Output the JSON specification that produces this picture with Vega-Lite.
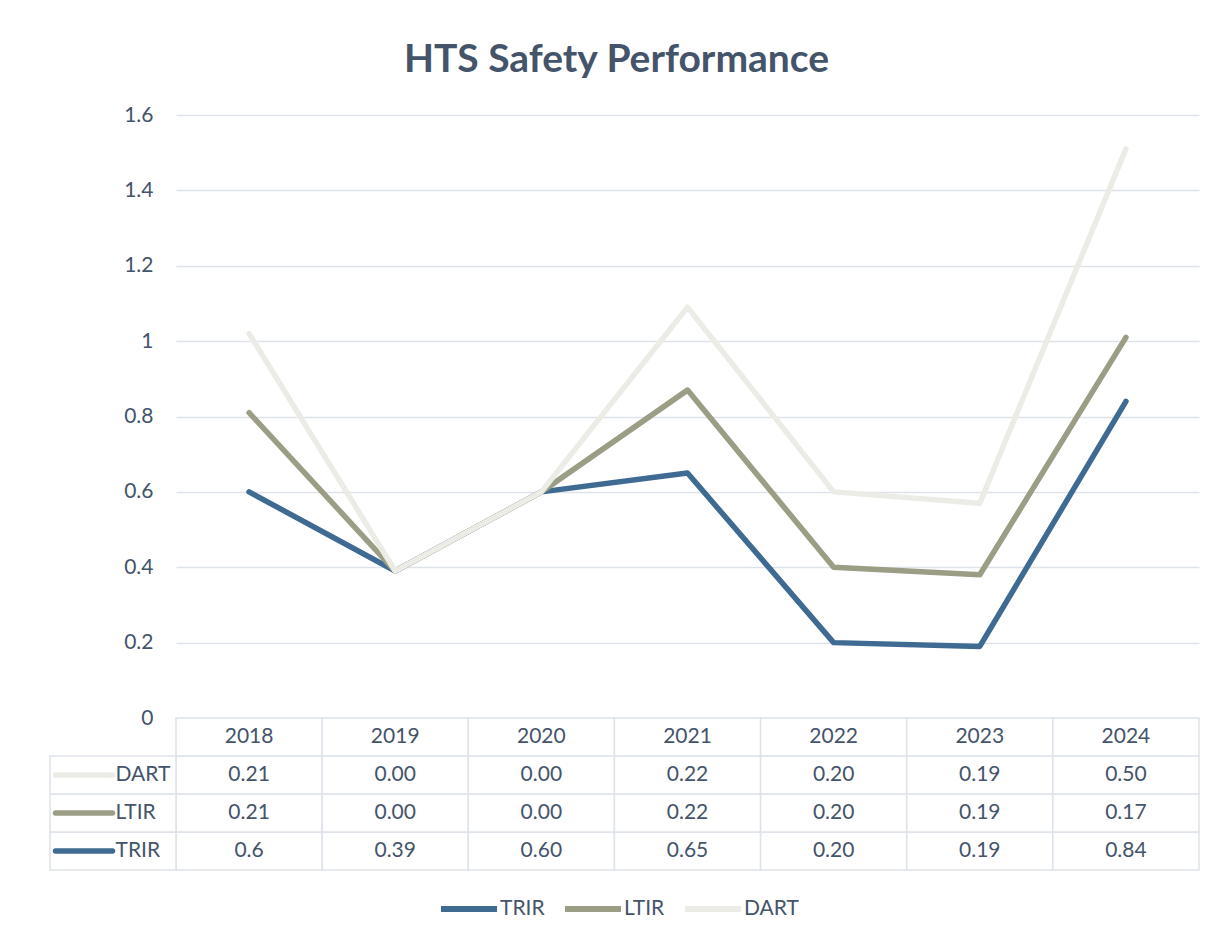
{
  "$schema": "https://vega.github.io/schema/vega-lite/v6.json",
  "background": "white",
  "padding": {"left": 44, "top": 41, "right": 28, "bottom": 40},
  "autosize": {"type": "pad"},
  "bounds": "flush",
  "spacing": 0,
  "title": {"text": "HTS Safety Performance", "font": "Lato", "fontSize": 39, "fontWeight": "bold", "color": "#44546A", "anchor": "middle", "frame": "group", "dx": -71, "offset": 24},
  "data": {"values": [
    {"year": "2018", "series": "TRIR", "value": 0.6, "label": "0.6"},
    {"year": "2019", "series": "TRIR", "value": 0.39, "label": "0.39"},
    {"year": "2020", "series": "TRIR", "value": 0.60, "label": "0.60"},
    {"year": "2021", "series": "TRIR", "value": 0.65, "label": "0.65"},
    {"year": "2022", "series": "TRIR", "value": 0.20, "label": "0.20"},
    {"year": "2023", "series": "TRIR", "value": 0.19, "label": "0.19"},
    {"year": "2024", "series": "TRIR", "value": 0.84, "label": "0.84"},
    {"year": "2018", "series": "LTIR", "value": 0.21, "label": "0.21"},
    {"year": "2019", "series": "LTIR", "value": 0.00, "label": "0.00"},
    {"year": "2020", "series": "LTIR", "value": 0.00, "label": "0.00"},
    {"year": "2021", "series": "LTIR", "value": 0.22, "label": "0.22"},
    {"year": "2022", "series": "LTIR", "value": 0.20, "label": "0.20"},
    {"year": "2023", "series": "LTIR", "value": 0.19, "label": "0.19"},
    {"year": "2024", "series": "LTIR", "value": 0.17, "label": "0.17"},
    {"year": "2018", "series": "DART", "value": 0.21, "label": "0.21"},
    {"year": "2019", "series": "DART", "value": 0.00, "label": "0.00"},
    {"year": "2020", "series": "DART", "value": 0.00, "label": "0.00"},
    {"year": "2021", "series": "DART", "value": 0.22, "label": "0.22"},
    {"year": "2022", "series": "DART", "value": 0.20, "label": "0.20"},
    {"year": "2023", "series": "DART", "value": 0.19, "label": "0.19"},
    {"year": "2024", "series": "DART", "value": 0.50, "label": "0.50"}
  ]},
  "vconcat": [
    {
      "width": 1023,
      "height": 603,
      "mark": {"type": "line", "strokeWidth": 5.5, "strokeCap": "round", "strokeJoin": "round"},
      "encoding": {
        "x": {"field": "year", "type": "ordinal", "scale": {"type": "band", "paddingInner": 0, "paddingOuter": 0}, "axis": null},
        "y": {"field": "value", "type": "quantitative", "stack": "zero",
              "scale": {"domain": [0, 1.6], "nice": false, "zero": true},
              "axis": {"values": [0, 0.2, 0.4, 0.6, 0.8, 1, 1.2, 1.4, 1.6], "format": "~g", "grid": true, "gridColor": "#DEE3EA", "gridWidth": 1.5, "domain": false, "ticks": false, "labelPadding": 23, "labelFont": "Lato", "labelFontSize": 21, "labelColor": "#44546A", "title": null}},
        "color": {"field": "series", "type": "nominal",
                  "scale": {"domain": ["TRIR", "LTIR", "DART"], "range": ["#3F6A92", "#9C9D85", "#ECECE7"]},
                  "legend": {"orient": "none", "legendX": 262, "legendY": 763, "direction": "horizontal", "title": null, "symbolType": "stroke", "symbolSize": 3136, "symbolStrokeWidth": 6, "labelFont": "Lato", "labelFontSize": 21, "labelColor": "#44546A", "labelOffset": 0, "columnPadding": 8}}
      }
    },
    {
      "width": 1023,
      "height": 152,
      "resolve": {"scale": {"x": "independent"}},
      "layer": [
        {
          "layer": [
            {
              "mark": {"type": "rect", "fill": "white", "stroke": "#DEE3EA", "strokeWidth": 1.5},
              "encoding": {
                "x": {"field": "year", "type": "ordinal", "scale": {"type": "band", "paddingInner": 0, "paddingOuter": 0}, "axis": null},
                "y": {"field": "series", "type": "nominal", "scale": {"type": "band", "domain": ["hdr", "DART", "LTIR", "TRIR"], "paddingInner": 0, "paddingOuter": 0}, "axis": null}
              }
            },
            {
              "transform": [{"filter": "datum.series == 'TRIR'"}],
              "mark": {"type": "rect", "fill": "white", "stroke": "#DEE3EA", "strokeWidth": 1.5},
              "encoding": {
                "x": {"field": "year", "type": "ordinal"},
                "y": {"datum": "hdr", "type": "nominal"}
              }
            },
            {
              "mark": {"type": "text", "font": "Lato", "fontSize": 21, "color": "#44546A"},
              "encoding": {
                "x": {"field": "year", "type": "ordinal"},
                "y": {"field": "series", "type": "nominal"},
                "text": {"field": "label"}
              }
            },
            {
              "transform": [{"filter": "datum.series == 'TRIR'"}],
              "mark": {"type": "text", "font": "Lato", "fontSize": 21, "color": "#44546A"},
              "encoding": {
                "x": {"field": "year", "type": "ordinal"},
                "y": {"datum": "hdr", "type": "nominal"},
                "text": {"field": "year"}
              }
            }
          ]
        },
        {
          "transform": [{"filter": "datum.year == '2018'"}],
          "layer": [
            {
              "mark": {"type": "rect", "fill": "white", "stroke": "#DEE3EA", "strokeWidth": 1.5},
              "encoding": {
                "x": {"datum": "lbl", "type": "nominal", "scale": {"type": "band", "domain": ["lbl"], "range": [-126, 0], "paddingInner": 0, "paddingOuter": 0}, "axis": null},
                "y": {"field": "series", "type": "nominal"}
              }
            },
            {
              "mark": {"type": "point", "shape": "stroke", "size": 3249, "strokeWidth": 5.5, "filled": false, "opacity": 1, "strokeCap": "round"},
              "encoding": {
                "x": {"datum": "lbl", "type": "nominal", "bandPosition": 0.27},
                "y": {"field": "series", "type": "nominal"},
                "color": {"field": "series", "type": "nominal"}
              }
            },
            {
              "mark": {"type": "text", "align": "left", "font": "Lato", "fontSize": 21, "color": "#44546A"},
              "encoding": {
                "x": {"datum": "lbl", "type": "nominal", "bandPosition": 0.52},
                "y": {"field": "series", "type": "nominal"},
                "text": {"field": "series"}
              }
            }
          ]
        }
      ]
    }
  ],
  "resolve": {"scale": {"x": "independent", "y": "independent", "color": "shared"}},
  "config": {"view": {"stroke": null}, "font": "Lato"}
}
